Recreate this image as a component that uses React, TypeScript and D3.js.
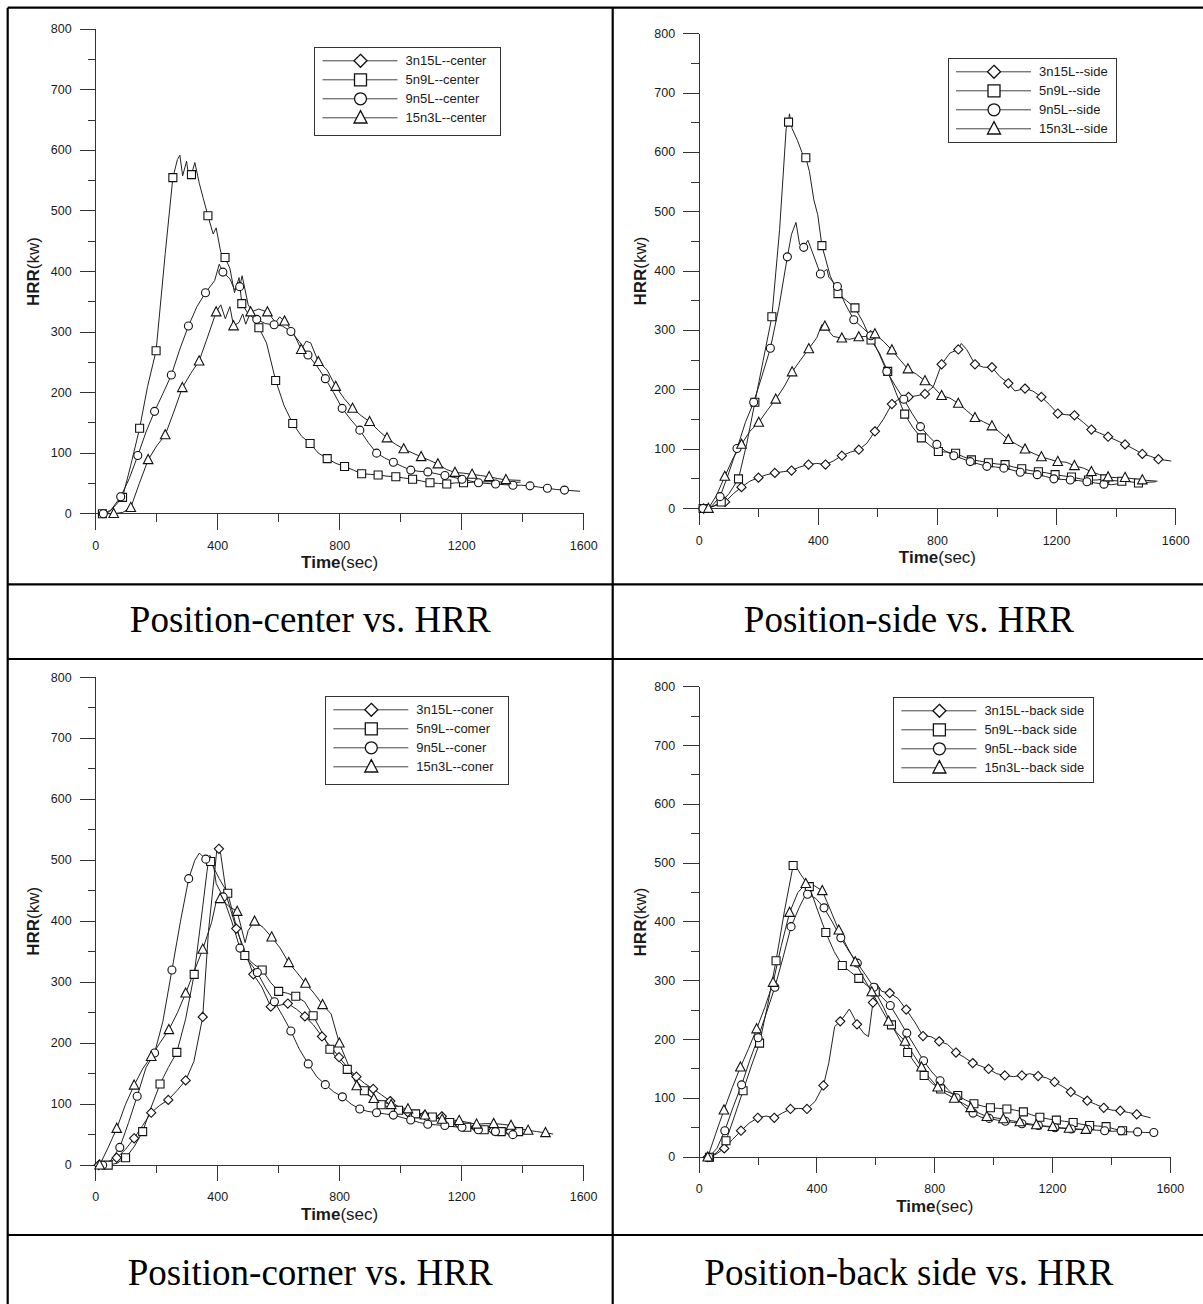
import React, { useEffect } from 'react';
import * as d3 from 'd3';

type Pt = [number, number];

// ---------- axis ticks ----------
const X_MAJOR = [0, 400, 800, 1200, 1600];
const X_MINOR = [200, 600, 1000, 1400];
const Y_MAJOR = [0, 100, 200, 300, 400, 500, 600, 700, 800];
const Y_MINOR = [50, 150, 250, 350, 450, 550, 650, 750];

const SHAPES = ['diamond', 'square', 'circle', 'triangle'];
const SERIES = ['3n15L', '5n9L', '9n5L', '15n3L'];

const CAPTIONS = ['Position-center vs. HRR', 'Position-side vs. HRR', 'Position-corner vs. HRR', 'Position-back side vs. HRR'];
const LEGEND_CENTER = ['3n15L--center', '5n9L--center', '9n5L--center', '15n3L--center'];
const LEGEND_SIDE = ['3n15L--side', '5n9L--side', '9n5L--side', '15n3L--side'];
const LEGEND_CORNER = ['3n15L--coner', '5n9L--comer', '9n5L--coner', '15n3L--coner'];
const LEGEND_BACK = ['3n15L--back side', '5n9L--back side', '9n5L--back side', '15n3L--back side'];

// ---------- Panel 1: center (markers + intermediate line points) ----------
const C_5N9L_M: Pt[] = [[22,0],[88,27],[144,141],[198,269],[253,555],[314,560],[368,492],[424,423],[479,347],[535,307],[590,220],[646,149],[703,116],[759,91],[816,78],[872,66],[926,64],[984,61],[1039,57],[1096,51],[1151,49],[1206,51]];
const C_5N9L_X: Pt[] = [[45,3],[115,80],[170,210],[228,430],[268,585],[276,592],[285,558],[298,582],[305,556],[325,580],[340,545],[352,522],[385,462],[395,472],[410,432],[440,405],[455,365],[470,390],[500,330],[520,322],[560,282],[618,178],[675,128],[730,100],[788,83],[845,72],[900,65],[955,62],[1010,59],[1068,54],[1124,50],[1180,51],[1240,52],[1300,53],[1350,52],[1393,52]];
const C_9N5L_M: Pt[] = [[25,0],[82,28],[138,96],[193,169],[248,229],[304,310],[360,365],[417,399],[472,375],[528,321],[585,312],[640,301],[696,262],[753,223],[808,174],[866,138],[921,100],[976,85],[1033,72],[1089,69],[1145,63],[1201,57],[1255,51],[1311,49],[1368,47],[1424,46],[1481,42],[1537,39]];
const C_9N5L_X: Pt[] = [[50,6],[110,58],[165,135],[220,198],[276,272],[332,342],[390,385],[405,412],[440,388],[455,370],[480,393],[500,345],[556,314],[612,310],[668,284],[725,244],[780,200],[837,155],[893,118],[948,92],[1005,78],[1060,70],[1117,66],[1173,60],[1228,54],[1283,50],[1340,48],[1396,47],[1452,44],[1510,40],[1588,37]];
const C_15N3L_M: Pt[] = [[59,0],[115,10],[172,89],[228,130],[284,208],[339,252],[395,333],[452,310],[508,333],[563,333],[619,318],[674,271],[730,251],[787,210],[842,174],[898,152],[955,125],[1010,107],[1067,94],[1122,82],[1178,68],[1234,65],[1290,61],[1345,56]];
const C_15N3L_X: Pt[] = [[30,0],[88,2],[143,50],[200,112],[256,168],[312,232],[367,292],[410,345],[425,322],[440,342],[470,316],[482,330],[492,313],[535,338],[590,316],[603,325],[647,300],[690,285],[705,282],[758,238],[815,190],[870,162],[926,138],[982,115],[1040,100],[1095,88],[1150,73],[1206,67],[1262,63],[1318,58],[1393,55]];

// ---------- Panel 2: side ----------
const S_3N15L_M: Pt[] = [[15,0],[87,11],[142,36],[199,52],[254,60],[310,64],[367,74],[424,74],[479,89],[536,99],[590,130],[647,176],[703,188],[758,193],[814,243],[870,268],[926,243],[983,238],[1038,211],[1094,202],[1149,188],[1204,160],[1260,157],[1317,133],[1373,121],[1430,108],[1488,92],[1542,83]];
const S_3N15L_X: Pt[] = [[50,4],[115,25],[170,46],[227,57],[282,62],[338,70],[395,76],[450,80],[508,95],[563,110],[618,150],[675,186],[730,190],[786,205],[842,262],[880,278],[898,268],[955,238],[1010,222],[1060,198],[1120,198],[1176,175],[1232,158],[1290,145],[1345,127],[1400,115],[1460,100],[1515,88],[1585,80]];
const S_5N9L_M: Pt[] = [[13,0],[74,11],[132,50],[187,179],[244,323],[300,651],[358,591],[412,443],[466,362],[523,338],[577,284],[633,231],[690,159],[746,119],[803,96],[861,93],[914,82],[971,77],[1027,74],[1083,67],[1139,62],[1195,57],[1250,53],[1307,48],[1362,50],[1419,46],[1475,43]];
const S_5N9L_X: Pt[] = [[40,2],[100,25],[160,110],[215,250],[270,470],[292,640],[303,665],[312,640],[330,620],[345,600],[370,568],[385,520],[398,495],[440,392],[495,350],[550,314],[605,262],[660,196],[718,136],[775,106],[832,95],[888,87],[942,80],[1000,75],[1055,70],[1111,64],[1167,60],[1222,55],[1280,50],[1335,48],[1390,47],[1447,45],[1533,45]];
const S_9N5L_M: Pt[] = [[13,0],[70,20],[127,101],[183,179],[239,270],[296,424],[351,440],[407,395],[464,374],[519,318],[576,291],[630,231],[687,184],[743,138],[798,108],[855,89],[910,79],[966,71],[1023,68],[1078,61],[1135,57],[1191,50],[1246,48],[1302,45],[1359,41]];
const S_9N5L_X: Pt[] = [[40,3],[98,58],[155,145],[210,222],[268,340],[310,462],[325,482],[337,445],[365,452],[380,432],[429,403],[435,390],[490,345],[548,305],[603,262],[658,207],[715,160],[770,122],[826,97],[883,84],[938,75],[995,70],[1050,65],[1107,59],[1163,54],[1218,49],[1274,47],[1330,43],[1385,40],[1410,42]];
const S_15N3L_M: Pt[] = [[31,0],[86,54],[142,108],[200,145],[257,184],[312,230],[368,269],[422,307],[479,287],[536,289],[590,294],[647,267],[701,235],[758,215],[814,190],[870,177],[926,153],[983,139],[1038,116],[1094,100],[1149,87],[1204,79],[1260,72],[1317,62],[1373,53],[1430,52],[1488,48]];
const S_15N3L_X: Pt[] = [[58,22],[114,85],[170,130],[228,165],[285,205],[340,250],[395,288],[412,310],[450,290],[505,285],[560,290],[575,300],[618,282],[675,250],[730,226],[786,205],[842,186],[898,165],[955,146],[1010,128],[1066,108],[1121,93],[1176,83],[1232,78],[1290,68],[1345,57],[1400,52],[1460,50],[1539,46]];

// ---------- Panel 3: corner ----------
const K_3N15L_M: Pt[] = [[10,0],[69,12],[126,44],[182,86],[238,107],[295,139],[351,243],[404,519],[461,388],[517,313],[574,260],[630,265],[686,244],[742,211],[798,177],[855,145],[910,125],[966,105],[1023,87],[1079,82],[1135,80],[1190,68],[1246,62],[1303,57],[1359,55]];
const K_3N15L_X: Pt[] = [[40,3],[98,26],[154,65],[210,98],[266,122],[322,170],[370,385],[390,480],[398,522],[410,510],[430,440],[490,350],[545,292],[600,262],[658,256],[714,230],[770,195],[826,160],[882,134],[938,115],[995,95],[1050,84],[1108,81],[1162,74],[1218,65],[1275,60],[1330,56],[1375,54]];
const K_5N9L_M: Pt[] = [[41,0],[98,12],[154,55],[211,133],[266,185],[323,313],[377,498],[433,446],[489,344],[546,320],[600,285],[656,277],[713,245],[768,190],[825,157],[881,122],[936,99],[993,90],[1049,84],[1104,79],[1161,70],[1217,62],[1274,58],[1330,55],[1387,55]];
const K_5N9L_X: Pt[] = [[70,3],[126,30],[182,95],[238,160],[295,240],[350,420],[365,482],[372,505],[405,470],[461,392],[517,330],[573,300],[628,282],[685,268],[740,220],[796,172],[853,140],[908,110],[965,95],[1021,87],[1077,82],[1133,75],[1189,66],[1245,60],[1302,57],[1358,55],[1392,55]];
const K_9N5L_M: Pt[] = [[23,0],[79,29],[136,113],[193,184],[250,320],[305,470],[361,502],[418,440],[473,356],[530,316],[586,268],[640,220],[697,166],[753,132],[809,112],[866,92],[921,86],[976,82],[1033,74],[1089,67],[1145,65],[1201,62],[1255,58],[1311,55],[1368,50]];
const K_9N5L_X: Pt[] = [[50,8],[108,70],[165,160],[220,235],[278,400],[325,500],[340,512],[350,507],[375,508],[385,498],[395,462],[446,400],[501,335],[558,290],[613,245],[668,190],[725,145],[781,120],[838,100],[893,88],[948,84],[1005,78],[1061,70],[1117,66],[1173,63],[1228,60],[1283,56],[1340,52],[1375,50]];
const K_15N3L_M: Pt[] = [[13,0],[69,60],[126,131],[182,178],[240,222],[295,282],[351,354],[408,437],[464,416],[521,400],[577,374],[633,332],[688,298],[744,263],[799,200],[856,130],[912,109],[969,99],[1024,92],[1080,82],[1136,75],[1192,73],[1249,67],[1305,68],[1362,65],[1418,57],[1475,53]];
const K_15N3L_X: Pt[] = [[40,28],[98,100],[154,158],[210,200],[268,250],[323,318],[380,398],[395,432],[436,425],[490,365],[500,385],[549,390],[605,356],[660,316],[716,282],[772,248],[828,165],[884,118],[940,104],[996,95],[1052,87],[1108,78],[1164,74],[1220,70],[1277,68],[1333,67],[1390,60],[1446,55],[1500,51]];

// ---------- Panel 4: back side ----------
const B_3N15L_M: Pt[] = [[29,0],[85,15],[142,45],[199,67],[255,67],[310,82],[366,82],[422,122],[479,231],[536,226],[590,263],[647,279],[703,251],[760,206],[815,197],[872,178],[929,160],[983,150],[1038,139],[1096,139],[1151,138],[1207,128],[1262,111],[1318,96],[1374,84],[1430,79],[1486,73]];
const B_3N15L_X: Pt[] = [[57,5],[113,30],[170,58],[227,70],[282,75],[338,83],[394,95],[440,160],[460,222],[500,245],[510,252],[525,238],[560,210],[575,205],[603,295],[620,282],[675,270],[732,230],[787,205],[843,192],[900,170],[956,155],[1010,142],[1067,137],[1123,142],[1179,135],[1235,120],[1290,104],[1346,90],[1402,80],[1458,76],[1533,67]];
const B_5N9L_M: Pt[] = [[35,0],[91,28],[149,113],[205,194],[261,334],[319,496],[374,460],[430,382],[486,326],[542,304],[598,281],[653,225],[708,178],[764,139],[820,116],[878,105],[933,91],[989,84],[1045,82],[1101,77],[1157,68],[1213,63],[1270,59],[1326,54],[1382,52],[1438,45]];
const B_5N9L_X: Pt[] = [[60,8],[120,70],[177,155],[233,260],[290,420],[325,497],[346,480],[402,420],[458,350],[514,315],[570,292],[626,255],[681,200],[736,158],[792,125],[849,110],[905,97],[961,87],[1017,83],[1073,80],[1129,72],[1185,65],[1241,61],[1298,56],[1354,53],[1410,48],[1450,45]];
const B_9N5L_M: Pt[] = [[33,0],[87,45],[144,123],[200,203],[257,289],[312,392],[368,447],[424,424],[481,373],[537,330],[593,289],[649,258],[705,211],[762,164],[818,130],[873,101],[930,75],[985,66],[1040,61],[1096,57],[1152,54],[1208,50],[1264,48],[1320,47],[1377,45],[1433,45],[1489,43],[1544,42]];
const B_9N5L_X: Pt[] = [[60,15],[115,85],[172,165],[228,245],[285,340],[340,425],[365,450],[396,440],[452,400],[509,350],[565,310],[621,272],[677,235],[733,188],[790,145],[845,115],[900,86],[957,68],[1012,63],[1068,59],[1124,55],[1180,52],[1236,49],[1292,47],[1348,46],[1405,44],[1460,43],[1516,42],[1550,42]];
const B_15N3L_M: Pt[] = [[29,0],[84,80],[140,153],[195,218],[251,297],[307,416],[362,465],[418,453],[474,386],[530,332],[586,281],[643,231],[699,197],[755,153],[810,119],[866,100],[922,84],[977,69],[1033,65],[1089,60],[1145,55],[1201,52],[1256,49],[1313,47]];
const B_15N3L_X: Pt[] = [[56,40],[112,118],[168,185],[223,255],[279,360],[335,450],[390,462],[446,420],[502,358],[558,305],[615,255],[671,212],[727,175],[782,135],[838,108],[894,92],[950,75],[1005,67],[1061,62],[1117,57],[1173,53],[1228,50],[1285,48],[1320,47]];

type Series = { m: Pt[]; x: Pt[] } | null;

const PANELS = [
  {
    caption: CAPTIONS[0], legend: LEGEND_CENTER,
    series: [null, { m: C_5N9L_M, x: C_5N9L_X }, { m: C_9N5L_M, x: C_9N5L_X }, { m: C_15N3L_M, x: C_15N3L_X }] as Series[],
    plot: { x0: 95.7, x1: 583.7, yTop: 29.3, yBot: 513.7 },
    box: { x: 314.5, y: 47, w: 186, h: 88 }, yLabOff: 57, capY: 632,
  },
  {
    caption: CAPTIONS[1], legend: LEGEND_SIDE,
    series: [{ m: S_3N15L_M, x: S_3N15L_X }, { m: S_5N9L_M, x: S_5N9L_X }, { m: S_9N5L_M, x: S_9N5L_X }, { m: S_15N3L_M, x: S_15N3L_X }] as Series[],
    plot: { x0: 699.2, x1: 1175.7, yTop: 33.7, yBot: 508.5 },
    box: { x: 948, y: 58, w: 168, h: 84 }, yLabOff: 53, capY: 632,
  },
  {
    caption: CAPTIONS[2], legend: LEGEND_CORNER,
    series: [{ m: K_3N15L_M, x: K_3N15L_X }, { m: K_5N9L_M, x: K_5N9L_X }, { m: K_9N5L_M, x: K_9N5L_X }, { m: K_15N3L_M, x: K_15N3L_X }] as Series[],
    plot: { x0: 95.7, x1: 583.6, yTop: 677.5, yBot: 1165.1 },
    box: { x: 325.3, y: 696, w: 183, h: 88 }, yLabOff: 57, capY: 1285,
  },
  {
    caption: CAPTIONS[3], legend: LEGEND_BACK,
    series: [{ m: B_3N15L_M, x: B_3N15L_X }, { m: B_5N9L_M, x: B_5N9L_X }, { m: B_9N5L_M, x: B_9N5L_X }, { m: B_15N3L_M, x: B_15N3L_X }] as Series[],
    plot: { x0: 699.2, x1: 1170.3, yTop: 686.7, yBot: 1157.2 },
    box: { x: 893.4, y: 697, w: 200, h: 85 }, yLabOff: 53, capY: 1285,
  },
];

const SANS = "'Liberation Sans', Arial, Helvetica, sans-serif";
const SERIF = "'Liberation Serif', 'Times New Roman', Times, serif";
const INK = '#1a1a1a';
const AXIS = '#333';

function markerPath(shape: string, s: number): string {
  switch (shape) {
    case 'diamond':
      return `M0,${-s}L${s},0L0,${s}L${-s},0Z`;
    case 'square':
      return `M${-s},${-s}H${s}V${s}H${-s}Z`;
    case 'circle':
      return `M${-s},0A${s},${s} 0 1,0 ${s},0A${s},${s} 0 1,0 ${-s},0Z`;
    default:
      return `M0,${-s * 1.1}L${s},${s * 0.8}L${-s},${s * 0.8}Z`;
  }
}
const PLOT_SIZE: Record<string, number> = { diamond: 4.6, square: 4, circle: 4, triangle: 4.8 };
const LEG_SIZE: Record<string, number> = { diamond: 6.5, square: 6, circle: 6, triangle: 6.5 };

function Panel({ cfg }: { cfg: typeof PANELS[number] }) {
  const { plot, box } = cfg;
  const x = d3.scaleLinear().domain([0, 1600]).range([plot.x0, plot.x1]);
  const y = d3.scaleLinear().domain([0, 800]).range([plot.yBot, plot.yTop]);
  const line = d3.line<Pt>().x((d) => x(d[0])).y((d) => y(d[1]));
  const MAJ = 16, MIN = 8;
  const cx = (plot.x0 + plot.x1) / 2;
  const cy = (plot.yTop + plot.yBot) / 2;

  return (
    <g>
      {/* axes */}
      <g stroke={AXIS} strokeWidth={1} fill="none" shapeRendering="crispEdges">
        <line x1={x(0)} x2={x(1600)} y1={y(0)} y2={y(0)} />
        <line x1={x(0)} x2={x(0)} y1={y(0)} y2={y(800)} />
        {X_MAJOR.map((t) => <line key={'xm' + t} x1={x(t)} x2={x(t)} y1={y(0)} y2={y(0) + MAJ} />)}
        {X_MINOR.map((t) => <line key={'xn' + t} x1={x(t)} x2={x(t)} y1={y(0)} y2={y(0) + MIN} />)}
        {Y_MAJOR.map((t) => <line key={'ym' + t} x1={x(0) - MAJ} x2={x(0)} y1={y(t)} y2={y(t)} />)}
        {Y_MINOR.map((t) => <line key={'yn' + t} x1={x(0) - MIN} x2={x(0)} y1={y(t)} y2={y(t)} />)}
      </g>
      <g fontFamily={SANS} fontSize={12.5} fill={INK}>
        {X_MAJOR.map((t) => (
          <text key={'xl' + t} x={x(t)} y={y(0) + 36} textAnchor="middle">{t}</text>
        ))}
        {Y_MAJOR.map((t) => (
          <text key={'yl' + t} x={x(0) - 24} y={y(t) + 4} textAnchor="end">{t}</text>
        ))}
      </g>
      <text x={cx} y={y(0) + 54.5} textAnchor="middle" fontFamily={SANS} fontSize={17} fill={INK}>
        <tspan fontWeight="bold">Time</tspan><tspan>(sec)</tspan>
      </text>
      <text transform={`translate(${x(0) - cfg.yLabOff},${cy}) rotate(-90)`} textAnchor="middle" fontFamily={SANS} fontSize={17} fill={INK}>
        <tspan fontWeight="bold">HRR</tspan><tspan>(kw)</tspan>
      </text>

      {/* series lines */}
      {cfg.series.map((s, i) => {
        if (!s) return null;
        const pts = [...s.m, ...s.x].sort((a, b) => a[0] - b[0]);
        return <path key={'l' + i} d={line(pts) || ''} fill="none" stroke="#222" strokeWidth={1} strokeLinejoin="round" />;
      })}
      {/* markers */}
      {cfg.series.map((s, i) => {
        if (!s) return null;
        const shape = SHAPES[i];
        const d = markerPath(shape, PLOT_SIZE[shape]);
        return (
          <g key={'m' + i}>
            {s.m.map((p, j) => (
              <path key={j} d={d} transform={`translate(${x(p[0])},${y(p[1])})`} fill="#fff" stroke="#111" strokeWidth={1.1} />
            ))}
          </g>
        );
      })}

      {/* legend */}
      <rect x={box.x} y={box.y} width={box.w} height={box.h} fill="#fff" stroke="#333" strokeWidth={1} shapeRendering="crispEdges" />
      {cfg.legend.map((label, i) => {
        const ry = box.y + 13.8 + i * 19;
        const shape = SHAPES[i];
        return (
          <g key={'lg' + i}>
            <line x1={box.x + 8} x2={box.x + 83} y1={ry} y2={ry} stroke="#444" strokeWidth={1} />
            <path d={markerPath(shape, LEG_SIZE[shape])} transform={`translate(${box.x + 46},${ry})`} fill="#fff" stroke="#111" strokeWidth={1.3} />
            <text x={box.x + 91} y={ry + 4.5} fontFamily={SANS} fontSize={13} fill={INK}>{label}</text>
          </g>
        );
      })}
    </g>
  );
}

export default function App() {
  useEffect(() => {
    document.body.style.margin = '0';
  }, []);
  const L = 7.7, R = 1205, T = 7.7, B = 1310, MIDX = 612.7;
  const H1 = 584.3, H2 = 659, H3 = 1235;
  const col1 = (L + MIDX) / 2;
  const col2 = (MIDX + R) / 2;
  return (
    <svg width={1203} height={1304} style={{ display: 'block', position: 'absolute', left: 0, top: 0, background: '#fff' }}>
      <rect x={0} y={0} width={1203} height={1304} fill="#fff" />
      {PANELS.map((p, i) => <Panel key={i} cfg={p} />)}
      <g fontFamily={SERIF} fontSize={37} fill="#000" textAnchor="middle">
        <text x={col1} y={PANELS[0].capY}>{PANELS[0].caption}</text>
        <text x={col2} y={PANELS[1].capY}>{PANELS[1].caption}</text>
        <text x={col1} y={PANELS[2].capY}>{PANELS[2].caption}</text>
        <text x={col2} y={PANELS[3].capY}>{PANELS[3].caption}</text>
      </g>
      <g stroke="#000" strokeWidth={2.2}>
        <line x1={L} x2={R} y1={T} y2={T} />
        <line x1={L} x2={R} y1={H1} y2={H1} />
        <line x1={L} x2={R} y1={H2} y2={H2} />
        <line x1={L} x2={R} y1={H3} y2={H3} />
        <line x1={L} x2={R} y1={B} y2={B} />
        <line x1={L} x2={L} y1={T} y2={B} />
        <line x1={MIDX} x2={MIDX} y1={T} y2={B} />
        <line x1={R} x2={R} y1={T} y2={B} />
      </g>
    </svg>
  );
}
